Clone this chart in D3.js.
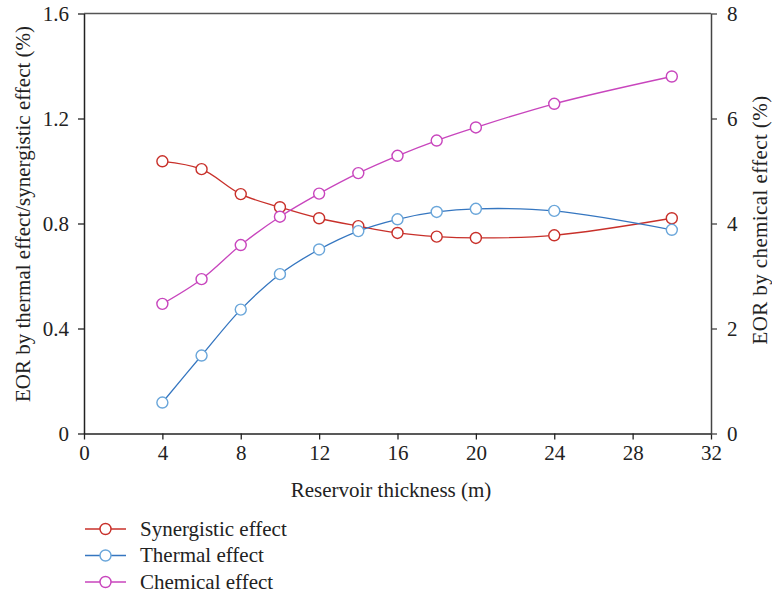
<!DOCTYPE html>
<html>
<head>
<meta charset="utf-8">
<script src="https://cdn.jsdelivr.net/npm/d3@7"></script>
</head>
<body style="margin:0">
<svg id="chart" width="772" height="597" font-family="Liberation Serif"></svg>
<script>
// Reservoir thickness (m)
const thickness = [4, 6, 8, 10, 12, 14, 16, 18, 20, 24, 30];
// EOR (%) on the left axis
const synergistic = [1.037, 1.007, 0.912, 0.862, 0.820, 0.790, 0.764, 0.750, 0.745, 0.755, 0.820];
const thermal     = [0.118, 0.297, 0.472, 0.607, 0.701, 0.771, 0.816, 0.844, 0.856, 0.848, 0.776];
// EOR (%) on the right axis
const chemical    = [2.47, 2.94, 3.59, 4.13, 4.57, 4.96, 5.29, 5.58, 5.83, 6.28, 6.80];

const xTicks = [0, 4, 8, 12, 16, 20, 24, 28, 32];
const yLeftTicks = [0, 0.4, 0.8, 1.2, 1.6];
const yRightTicks = [0, 2, 4, 6, 8];

const seriesNames = ["Synergistic effect", "Thermal effect", "Chemical effect"];

const FONT = "Liberation Serif";
const FS = 21;

const svg = d3.select("#chart");
const m = { left: 84, right: 711, top: 13.5, bottom: 433.5 };

const x = d3.scaleLinear().domain([0, 32]).range([m.left, m.right]);
const yL = d3.scaleLinear().domain([0, 1.6]).range([m.bottom, m.top]);
const yR = d3.scaleLinear().domain([0, 8]).range([m.bottom, m.top]);

const fmtL = d => d === 0 ? "0" : d3.format(".1f")(d);

// frame: top border
svg.append("line")
  .attr("x1", m.left).attr("x2", m.right)
  .attr("y1", m.top).attr("y2", m.top)
  .attr("stroke", "#555").attr("stroke-width", 1.5);

function styleAxis(g, color) {
  g.attr("font-family", FONT).attr("font-size", FS);
  g.select(".domain").attr("stroke", color).attr("stroke-width", 1.5);
  g.selectAll(".tick line").attr("stroke", color).attr("stroke-width", 1.3);
  g.selectAll(".tick text")
    .attr("font-family", FONT)
    .attr("font-size", FS)
    .attr("fill", "#222");
}

const gx = svg.append("g")
  .attr("transform", `translate(0,${m.bottom})`)
  .call(d3.axisBottom(x).tickValues(xTicks).tickSize(6).tickPadding(6).tickSizeOuter(0));
styleAxis(gx, "#222");

const gl = svg.append("g")
  .attr("transform", `translate(${m.left},0)`)
  .call(d3.axisLeft(yL).tickValues(yLeftTicks).tickFormat(fmtL).tickSize(6).tickPadding(9).tickSizeOuter(0));
styleAxis(gl, "#222");

const gr = svg.append("g")
  .attr("transform", `translate(${m.right},0)`)
  .call(d3.axisRight(yR).tickValues(yRightTicks).tickSize(6).tickPadding(10).tickSizeOuter(0));
styleAxis(gr, "#444");

function label(sel) {
  return sel.attr("font-family", FONT).attr("font-size", FS).attr("fill", "#222");
}

// axis titles
label(svg.append("text"))
  .attr("x", 391).attr("y", 497)
  .attr("text-anchor", "middle")
  .text("Reservoir thickness (m)");

label(svg.append("text"))
  .attr("transform", "translate(30,214) rotate(-90)")
  .attr("text-anchor", "middle")
  .text("EOR by thermal effect/synergistic effect (%)");

label(svg.append("text"))
  .attr("transform", "translate(767,220) rotate(-90)")
  .attr("text-anchor", "middle")
  .attr("letter-spacing", 0.4)
  .text("EOR by chemical effect (%)");

// series
const series = [
  { name: seriesNames[0], values: synergistic, y: yL, line: "#c8302a", mark: "#c8302a" },
  { name: seriesNames[1], values: thermal,     y: yL, line: "#3576c0", mark: "#6aa6da" },
  { name: seriesNames[2], values: chemical,    y: yR, line: "#c845bd", mark: "#c845bd" }
];

const plot = svg.append("g");
series.forEach(s => {
  const pts = thickness.map((t, i) => [t, s.values[i]]);
  const line = d3.line()
    .x(d => x(d[0]))
    .y(d => s.y(d[1]))
    .curve(d3.curveCatmullRom.alpha(0.5));
  plot.append("path")
    .datum(pts)
    .attr("d", line)
    .attr("fill", "none")
    .attr("stroke", s.line)
    .attr("stroke-width", 1.3);
});
series.forEach(s => {
  const pts = thickness.map((t, i) => [t, s.values[i]]);
  plot.selectAll(null)
    .data(pts)
    .enter().append("circle")
    .attr("cx", d => x(d[0]))
    .attr("cy", d => s.y(d[1]))
    .attr("r", 5.5)
    .attr("fill", "#fff")
    .attr("stroke", s.mark)
    .attr("stroke-width", 1.4);
});

// legend
const legend = svg.append("g");
series.forEach((s, i) => {
  const yy = 529 + i * 26.5;
  legend.append("line")
    .attr("x1", 85).attr("x2", 126)
    .attr("y1", yy).attr("y2", yy)
    .attr("stroke", s.line).attr("stroke-width", 1.3);
  legend.append("circle")
    .attr("cx", 105.5).attr("cy", yy).attr("r", 5.5)
    .attr("fill", "#fff").attr("stroke", s.mark).attr("stroke-width", 1.4);
  label(legend.append("text"))
    .attr("x", 140).attr("y", yy + 6.5)
    .text(s.name);
});
</script>
</body>
</html>
